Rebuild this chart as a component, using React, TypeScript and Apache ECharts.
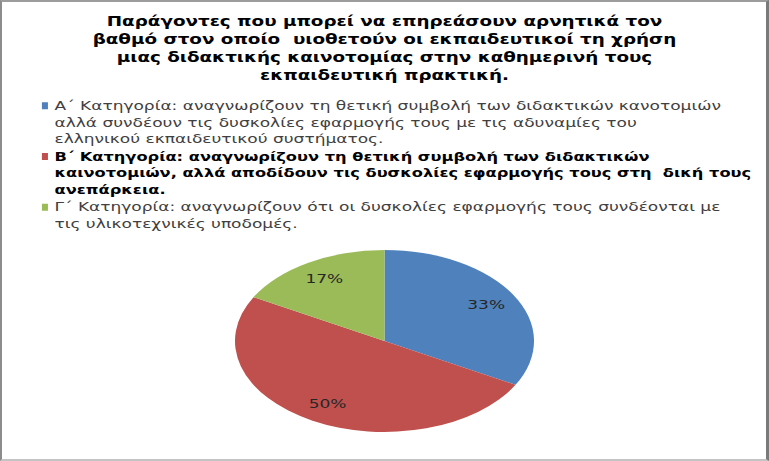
import * as echarts from "echarts"
import { useEffect, useRef } from "react"

const TITLE_LINES = [
  "Παράγοντες που μπορεί να επηρεάσουν αρνητικά τον",
  "βαθμό στον οποίο  υιοθετούν οι εκπαιδευτικοί τη χρήση",
  "μιας διδακτικής καινοτομίας στην καθημερινή τους",
  "εκπαιδευτική πρακτική.",
]

// legend text, one array of wrapped lines per category
const CATEGORY_LINES = [
  [
    "Α΄ Κατηγορία: αναγνωρίζουν τη θετική συμβολή των διδακτικών κανοτομιών",
    "αλλά συνδέουν τις δυσκολίες εφαρμογής τους με τις αδυναμίες του",
    "ελληνικού εκπαιδευτικού συστήματος.",
  ],
  [
    "Β΄ Κατηγορία: αναγνωρίζουν τη θετική συμβολή των διδακτικών",
    "καινοτομιών, αλλά αποδίδουν τις δυσκολίες εφαρμογής τους στη  δική τους",
    "ανεπάρκεια.",
  ],
  [
    "Γ΄ Κατηγορία: αναγνωρίζουν ότι οι δυσκολίες εφαρμογής τους συνδέονται με",
    "τις υλικοτεχνικές υποδομές.",
  ],
]
const CATEGORIES = CATEGORY_LINES.map((l) => l.join(" "))
const VALUES = [33, 50, 17]
const COLORS = ["#4F81BD", "#C0504D", "#9BBB59"]
const BOLD = [false, true, false]

const FONT = "'DejaVu Sans', Verdana, sans-serif"

// the original chart was stretched sideways; draw narrow, then stretch
const W = 769
const H = 461
const SX = 1.31
const W0 = Math.round(W / SX)

const LEGEND_LH = 16.5
const ICON_W = 4.6
const ICON_H = 2 * LEGEND_LH + 7 // marker box, square at its top = first text line
const MAX_LINES = 3

// pie geometry in the narrow frame
const CY = 341
const RX = 149.5 / SX
const RY = 91
const LABEL_K = 0.79

export default function App(): React.ReactElement {
  const ref = useRef<HTMLDivElement>(null)

  useEffect(() => {
    const node = ref.current
    if (!node) return
    const chart = echarts.init(node, undefined, { renderer: "svg" })
    const total = VALUES.reduce((a, b) => a + b, 0)
    const icon = `path://M0,0L${ICON_W},0L${ICON_W},7L0,7ZM0,${ICON_H}L${ICON_W},${ICON_H}`

    chart.setOption({
      animation: false,
      backgroundColor: "#ffffff",
      color: COLORS,
      title: {
        text: TITLE_LINES.join("\n"),
        left: "center",
        top: 12,
        padding: 0,
        textStyle: {
          fontFamily: FONT,
          fontSize: 14,
          fontWeight: "bold",
          lineHeight: 18,
          color: "#000000",
        },
      },
      legend: {
        orient: "vertical",
        left: 32,
        top: 97.5,
        padding: 0,
        icon,
        itemWidth: ICON_W,
        itemHeight: ICON_H,
        itemGap: 1.2,
        itemStyle: { borderWidth: 0 },
        selectedMode: false,
        formatter: (name: string) => {
          const lines = CATEGORY_LINES[CATEGORIES.indexOf(name)]
          const pad = new Array(MAX_LINES - lines.length).fill("")
          return lines.concat(pad).join("\n")
        },
        textStyle: {
          fontFamily: FONT,
          fontSize: 13,
          lineHeight: LEGEND_LH,
          color: "#404040",
        },
        data: CATEGORIES.map((name, i) => ({
          name,
          textStyle: {
            fontWeight: BOLD[i] ? "bold" : "normal",
            fontSize: BOLD[i] ? 12.4 : 13,
            color: BOLD[i] ? "#000000" : "#404040",
          },
        })),
      },
      series: CATEGORIES.map((name, i) => {
        const before = VALUES.slice(0, i).reduce((a, b) => a + b, 0)
        return {
          type: "custom",
          name,
          coordinateSystem: "none",
          itemStyle: { color: COLORS[i] },
          data: [[VALUES[i]]],
          renderItem: (_params: any, api: any) => {
            const cx = api.getWidth() / 2
            const a0 = -Math.PI / 2 + (2 * Math.PI * before) / total
            const a1 = a0 + (2 * Math.PI * api.value(0)) / total
            const mid = (a0 + a1) / 2
            return {
              type: "group",
              children: [
                {
                  type: "sector",
                  x: cx,
                  y: CY,
                  scaleY: RY / RX,
                  shape: {
                    cx: 0,
                    cy: 0,
                    r0: 0,
                    r: RX,
                    startAngle: a0,
                    endAngle: a1,
                    clockwise: true,
                  },
                  style: { fill: COLORS[i] },
                },
                {
                  type: "text",
                  x: cx + Math.cos(mid) * RX * LABEL_K,
                  y: CY + Math.sin(mid) * RY * LABEL_K,
                  style: {
                    text: `${api.value(0)}%`,
                    fill: "#262626",
                    fontFamily: FONT,
                    fontSize: 13,
                    align: "center",
                    verticalAlign: "middle",
                  },
                },
              ],
            }
          },
        }
      }),
    })

    return () => chart.dispose()
  }, [])

  return (
    <div
      style={{
        position: "absolute",
        left: 0,
        top: 0,
        width: W,
        height: H,
        overflow: "hidden",
        background: "#ffffff",
      }}
    >
      <div
        ref={ref}
        style={{
          width: W0,
          height: H,
          transform: `scaleX(${W / W0})`,
          transformOrigin: "0 0",
        }}
      />
      <div
        style={{
          position: "absolute",
          inset: 0,
          boxSizing: "border-box",
          borderLeft: "2px solid #8c8c8c",
          borderTop: "2px solid #9c9c9c",
          borderRight: "3px solid #7a7a7a",
          borderBottom: "2px solid #c4c4c4",
          pointerEvents: "none",
        }}
      />
    </div>
  )
}
